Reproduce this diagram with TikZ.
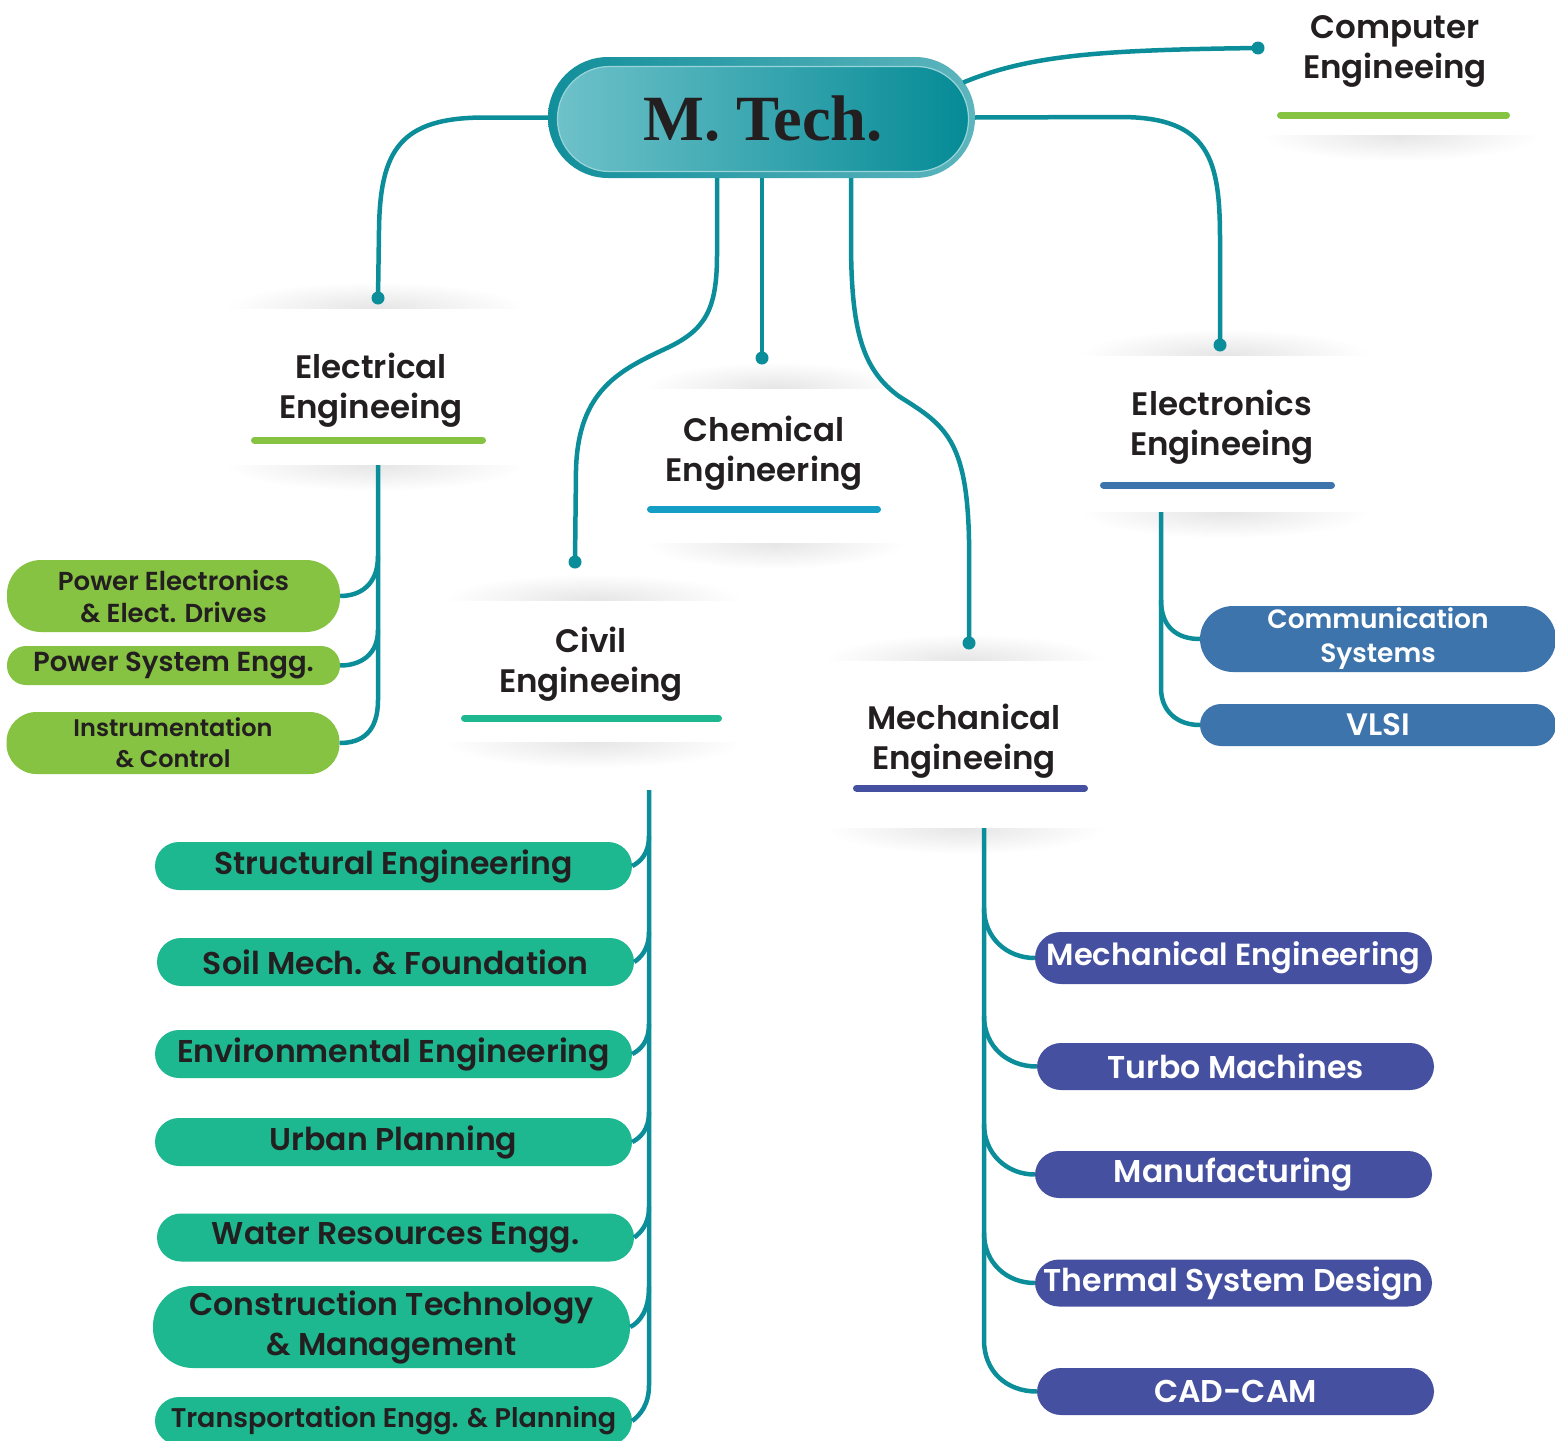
\documentclass[tikz,border=0pt]{standalone}
\usepackage{fontspec}
\setmainfont{Poppins}[BoldFont={Poppins SemiBold}]
\newfontfamily\mtfont{Liberation Serif}
\definecolor{teal1}{HTML}{0C8E9A}
\definecolor{grn}{HTML}{86C342}
\definecolor{civ}{HTML}{1DB88F}
\definecolor{ind}{HTML}{4650A0}
\definecolor{blu}{HTML}{3E74AC}
\definecolor{chb}{HTML}{149EC5}
\definecolor{txt}{HTML}{231F20}
\definecolor{mtA}{HTML}{6EC1C9}
\definecolor{mtB}{HTML}{058B96}
\definecolor{mtC}{HTML}{118F9B}
\definecolor{mtD}{HTML}{5DB5BD}
\newcommand\cardtop[3]{% cx, y, hw
 \begin{scope}
 \clip (#1-#3-5,#2) rectangle (#1+#3+5,#2-30);
 \shade[inner color=black!10, outer color=white] (#1,#2) ellipse [x radius=#3, y radius=26];
 \end{scope}}
\newcommand\cardbot[3]{% cx, y, hw
 \begin{scope}
 \clip (#1-#3-5,#2) rectangle (#1+#3+5,#2+30);
 \shade[inner color=black!10, outer color=white] (#1,#2) ellipse [x radius=#3, y radius=26];
 \end{scope}}
\newcommand\fs[2]{\fontsize{#1}{#2}\selectfont}
\tikzset{
 conn/.style={draw=teal1, line width=4.5pt},
 pill/.style={inner sep=0pt, align=center, rounded corners=24pt},
 elp/.style={pill, fill=grn, text=txt, minimum width=333pt, font=\bfseries\fs{26}{32}},
 cvp/.style={pill, fill=civ, text=txt, minimum width=477pt, minimum height=48pt, font=\bfseries\fs{31.5}{40}},
 mep/.style={pill, fill=ind, text=white, minimum width=397pt, minimum height=47pt, font=\bfseries\fs{31.5}{36}},
 enp/.style={pill, fill=blu, text=white, minimum width=356pt, font=\bfseries\fs{26.5}{34}},
 hdr/.style={text=txt, align=center, inner sep=0pt, font=\bfseries\fs{32.5}{40}},
 uline/.style={line width=7pt, line cap=round},
 dotc/.style={fill=teal1},
}
\begin{document}
\begin{tikzpicture}[x=1pt,y=-1pt]
\useasboundingbox (0,0) rectangle (1555,1440);
\fill[white] (0,0) rectangle (1555,1440);

% card shadows
\cardbot{1400}{135}{140}
\cardtop{375}{308}{150}\cardbot{375}{465}{150}
\cardtop{775}{388}{130}\cardbot{775}{543}{130}
\cardtop{593}{600}{150}\cardbot{593}{742}{150}
\cardtop{965}{660}{140}\cardbot{965}{828}{140}
\cardtop{1225}{355}{145}\cardbot{1225}{512}{145}

% central node
\node[minimum width=427pt, minimum height=121pt, rounded corners=60pt, inner sep=0pt,
      left color=mtC, right color=mtD] (mtech) at (761.5,117.5) {};
\node[minimum width=411pt, minimum height=105pt, rounded corners=52pt, inner sep=0pt,
      left color=mtA, right color=mtB, draw=mtA!70!white, line width=1.2pt,
      text=txt, font=\mtfont\bfseries\fs{64.5}{70}] (mtin) at (763,119) {M. Tech.};

% dots
\coordinate (compdot) at (1258,48);
\coordinate (eldot) at (378,298);
\coordinate (cvdot) at (575,562);
\coordinate (chdot) at (762,358);
\coordinate (medot) at (969,643);
\coordinate (endot) at (1220,345);

% main connectors
\draw[conn] (mtech.west) -- (485,117.5) .. controls (400,117.5) and (380,150) .. (379,230) -- (eldot);
\draw[conn] ([xshift=-44.5pt]mtech.south) -- (717,255) .. controls (717,310) and (705,330) .. (667,348)
   .. controls (620,370) and (578,390) .. (576,470) -- (cvdot);
\draw[conn, line width=4pt] ([xshift=0.5pt]mtech.south) -- (chdot);
\draw[conn] ([xshift=89.5pt]mtech.south) -- (851,240) .. controls (851,330) and (862,370) .. (900,397)
   .. controls (945,425) and (967,440) .. (969,540) -- (medot);
\draw[conn] (mtech.east) -- (1120,117) .. controls (1210,117) and (1220,160) .. (1220,240) -- (endot);
\draw[conn] ([xshift=-12pt,yshift=35pt]mtech.east) .. controls (1030,55) and (1100,50) .. (compdot);
\foreach \p in {compdot,eldot,cvdot,chdot,medot,endot} \fill[dotc] (\p) circle (6.5);

% headers
\node[hdr] (comp) at (1395,51) {Computer\\Engineeing};
\node[hdr] (elec) at (371,390) {Electrical\\Engineeing};
\node[hdr] (chem) at (764,453) {Chemical\\Engineering};
\node[hdr] (civil) at (591,664) {Civil\\Engineeing};
\node[hdr] (mech) at (964,741) {Mechanical\\Engineeing};
\node[hdr] (elecn) at (1222,427) {Electronics\\Engineeing};
\draw[uline, grn] (1280.5,115) -- (1506.5,115);
\draw[uline, grn] (254.5,440) -- (482.5,440);
\draw[uline, chb] (650.5,509) -- (877.5,509);
\draw[uline, civ] (464.5,718) -- (718.5,718);
\draw[uline, ind] (856.5,788) -- (1084.5,788);
\draw[uline, blu] (1103.5,485) -- (1331.5,485);

% electrical pills
\node[elp, minimum height=72pt, rounded corners=34pt] (pe) at (173.5,596) {Power Electronics\\\& Elect. Drives};
\node[elp, minimum height=39pt, rounded corners=19pt, font=\bfseries\fs{27.5}{32}] (ps) at (173.5,665.5) {Power System Engg.};
\node[elp, minimum height=62pt, rounded corners=30pt, font=\bfseries\fs{24}{31}] (ic) at (173,743) {Instrumentation\\\& Control};
\coordinate (eltop) at (378,465);
\coordinate (el1) at (378,556);
\coordinate (el2) at (378,630);
\draw[conn] (eltop) -- (378,700) .. controls (378,732) and (362,743) .. (ic.east);
\draw[conn] (el1) .. controls (378,585) and (360,596) .. (pe.east);
\draw[conn] (el2) .. controls (378,655) and (360,665.5) .. (ps.east);

% civil pills
\node[cvp] (s1) at (393.5,866) {Structural Engineering};
\node[cvp] (s2) at (395.5,962) {Soil Mech. \& Foundation};
\node[cvp] (s3) at (393.5,1054) {Environmental Engineering};
\node[cvp] (s4) at (393.5,1142) {Urban Planning};
\node[cvp] (s5) at (395.5,1237.5) {Water Resources Engg.};
\node[cvp, minimum height=82pt, rounded corners=40pt] (s6) at (391.5,1327) {Construction Technology\\\& Management};
\node[cvp, font=\bfseries\fs{27}{34}] (s7) at (393.5,1421) {Transportation Engg. \& Planning};
\coordinate (cvtop) at (649,790);
\coordinate (cv1) at (649,836);
\coordinate (cv2) at (649,932);
\coordinate (cv3) at (649,1024);
\coordinate (cv4) at (649,1112);
\coordinate (cv5) at (649,1207);
\coordinate (cv6) at (649,1287);
\draw[conn] (cvtop) -- (649,1385) .. controls (649,1405) and (640,1415) .. (s7.east);
\draw[conn] (cv1) .. controls (649,854) and (640,862) .. (s1.east);
\draw[conn] (cv2) .. controls (649,950) and (640,958) .. (s2.east);
\draw[conn] (cv3) .. controls (649,1042) and (640,1050) .. (s3.east);
\draw[conn] (cv4) .. controls (649,1130) and (640,1138) .. (s4.east);
\draw[conn] (cv5) .. controls (649,1225) and (640,1233) .. (s5.east);
\draw[conn] (cv6) .. controls (649,1310) and (640,1322) .. (s6.east);

% mechanical pills
\node[mep, minimum height=52pt, rounded corners=26pt, font=\bfseries\fs{30.5}{36}] (m1) at (1233.5,958) {Mechanical Engineering};
\node[mep] (m2) at (1235.5,1066.5) {Turbo Machines};
\node[mep] (m3) at (1233.5,1174.5) {Manufacturing};
\node[mep] (m4) at (1233.5,1283) {Thermal System Design};
\node[mep] (m5) at (1235.5,1391.5) {CAD-CAM};
\coordinate (metop) at (984,828);
\coordinate (me1) at (984,908);
\coordinate (me2) at (984,1016);
\coordinate (me3) at (984,1124);
\coordinate (me4) at (984,1233);
\draw[conn] (metop) -- (984,1340) .. controls (984,1372) and (1007,1391.5) .. (m5.west);
\draw[conn] (me1) .. controls (984,938) and (1007,958) .. (m1.west);
\draw[conn] (me2) .. controls (984,1046) and (1007,1066.5) .. (m2.west);
\draw[conn] (me3) .. controls (984,1154) and (1007,1174.5) .. (m3.west);
\draw[conn] (me4) .. controls (984,1263) and (1007,1283) .. (m4.west);

% electronics pills
\node[enp, minimum height=66pt, rounded corners=33pt] (c1) at (1378,639) {Communication\\Systems};
\node[enp, minimum height=42pt, rounded corners=21pt, font=\bfseries\fs{31}{34}] (c2) at (1378,725) {VLSI};
\coordinate (entop) at (1161,512);
\coordinate (en1) at (1161,600);
\draw[conn] (entop) -- (1161,688) .. controls (1161,712) and (1178,725) .. (c2.west);
\draw[conn] (en1) .. controls (1161,628) and (1178,639) .. (c1.west);
\end{tikzpicture}
\end{document}
